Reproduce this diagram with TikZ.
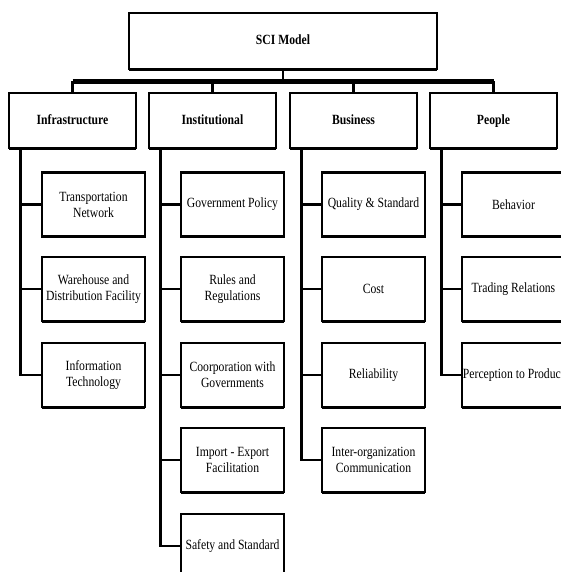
\documentclass[tikz,border=0pt]{standalone}
\usepackage{fontspec}
\setmainfont{Liberation Serif}[FakeStretch=0.83]
\usetikzlibrary{shadows}

\begin{document}
\begin{tikzpicture}[%
  x=0.25mm, y=-0.25mm,
  box/.style = {draw, line width=2pt, fill=white, align=center,
    inner sep=0pt, font=\fontsize{10}{11.5}\selectfont,
    drop shadow={shadow xshift=0pt, shadow yshift=-1.3pt, opacity=1, fill=black}},
  head/.style = {box, minimum width=31.75mm, minimum height=13.75mm,
    text height=1.6ex, text depth=0.5ex,
    font=\fontsize{10}{11.5}\selectfont\bfseries},
  item/.style = {box, minimum width=25.75mm, minimum height=16mm},
  line/.style = {line width=1.8pt},
  bus/.style  = {line width=3.5pt},
]
  \clip (0,0) rectangle (561,572);
  \useasboundingbox (0,0) rectangle (561,572);

  \node[head, minimum width=77mm, minimum height=14mm] (sci) at (283,41) {SCI Model};

  \node[head] (infra)  at (72.5,120.5)  {Infrastructure};
  \node[head] (inst)   at (212.5,120.5) {Institutional};
  \node[head] (busi)   at (353.5,120.5) {Business};
  \node[head] (people) at (493.5,120.5) {People};

  % infrastructure
  \node[item] (infra1) at (93.5,204.5) {Transportation\\Network};
  \node[item] (infra2) at (93.5,289)   {Warehouse and\\Distribution Facility};
  \node[item] (infra3) at (93.5,375)   {Information\\Technology};

  % institutional
  \node[item] (inst1) at (232.5,204.5) {Government Policy};
  \node[item] (inst2) at (232.5,289)   {Rules and\\Regulations};
  \node[item] (inst3) at (232.5,375)   {Coorporation with\\Governments};
  \node[item] (inst4) at (232.5,460)   {Import - Export\\Facilitation};
  \node[item] (inst5) at (232.5,546)   {Safety and Standard};

  % business
  \node[item] (busi1) at (373.5,204.5) {Quality \& Standard};
  \node[item] (busi2) at (373.5,289)   {Cost};
  \node[item] (busi3) at (373.5,375)   {Reliability};
  \node[item] (busi4) at (373.5,460)   {Inter-organization\\Communication};

  % people
  \node[item] (people1) at (513.5,204.5) {Behavior};
  \node[item] (people2) at (513.5,289)   {Trading Relations};
  \node[item] (people3) at (513.5,375)   {Perception to Product};

  \draw[line] (sci.south) -- ++(0,11) coordinate (hub);
  \draw[bus] (infra.north |- hub) -- (people.north |- hub);
  \draw[line] (hub -| infra.north) -- (infra.north);
  \draw[line] (hub -| inst.north) -- (inst.north);
  \draw[line] (hub -| busi.north) -- (busi.north);
  \draw[line] (hub -| people.north) -- (people.north);

  \draw[line] ([xshift=3.25mm]infra.south west) |- (infra1.west);
  \draw[line] ([xshift=3.25mm]infra.south west) |- (infra2.west);
  \draw[line] ([xshift=3.25mm]infra.south west) |- (infra3.west);

  \draw[line] ([xshift=3.25mm]inst.south west) |- (inst1.west);
  \draw[line] ([xshift=3.25mm]inst.south west) |- (inst2.west);
  \draw[line] ([xshift=3.25mm]inst.south west) |- (inst3.west);
  \draw[line] ([xshift=3.25mm]inst.south west) |- (inst4.west);
  \draw[line] ([xshift=3.25mm]inst.south west) |- (inst5.west);

  \draw[line] ([xshift=3.25mm]busi.south west) |- (busi1.west);
  \draw[line] ([xshift=3.25mm]busi.south west) |- (busi2.west);
  \draw[line] ([xshift=3.25mm]busi.south west) |- (busi3.west);
  \draw[line] ([xshift=3.25mm]busi.south west) |- (busi4.west);

  \draw[line] ([xshift=3.25mm]people.south west) |- (people1.west);
  \draw[line] ([xshift=3.25mm]people.south west) |- (people2.west);
  \draw[line] ([xshift=3.25mm]people.south west) |- (people3.west);

\end{tikzpicture}
\end{document}
